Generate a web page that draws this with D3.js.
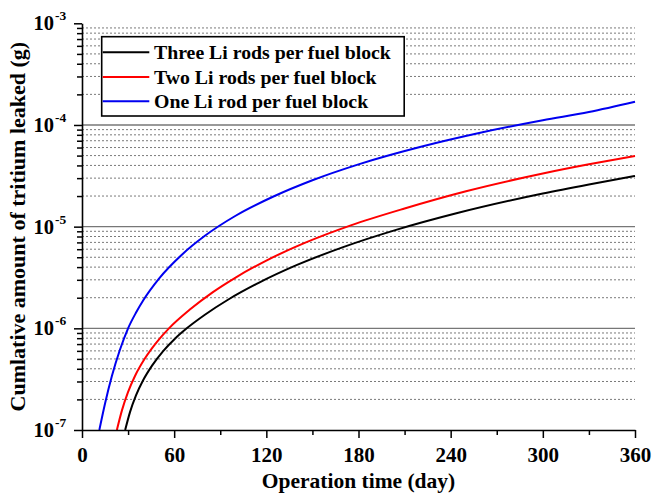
<!DOCTYPE html>
<html>
<head>
<meta charset="utf-8">
<script src="https://cdn.jsdelivr.net/npm/d3@7/dist/d3.min.js"></script>
<style>
  html, body { margin: 0; padding: 0; background: #fff; }
  svg { display: block; }
  text { font-family: "Liberation Serif", "Times New Roman", serif; font-weight: bold; fill: #000; }
</style>
</head>
<body>
<svg id="chart" width="654" height="494"></svg>
<script>
// ---- data ----
const seriesNames = ["Three Li rods per fuel block", "Two Li rods per fuel block", "One Li rod per fuel block"];
const seriesColors = ["#000000", "#ff0000", "#0000f0"];

const threeDays = [28.1, 31.25, 35.15, 39.7, 45.6, 52.7, 60.5, 68.2, 80, 95, 115, 140, 170, 205, 245, 300, 330, 360];
const threeVals = [1e-7, 1.50e-7, 2.19e-7, 3.07e-7, 4.30e-7, 5.94e-7, 7.91e-7, 1e-6, 1.36e-6, 1.91e-6, 2.80e-6, 4.20e-6, 6.29e-6, 9.35e-6, 1.37e-5, 2.12e-5, 2.60e-5, 3.15e-5];

const twoDays = [22.7, 26.0, 29.95, 34.5, 41.0, 48.8, 56.6, 70, 85, 100, 120, 145, 175, 210, 250, 300, 330, 360];
const twoVals = [1e-7, 1.56e-7, 2.36e-7, 3.40e-7, 5.07e-7, 7.37e-7, 1e-6, 1.52e-6, 2.26e-6, 3.16e-6, 4.64e-6, 6.92e-6, 1.03e-5, 1.51e-5, 2.23e-5, 3.33e-5, 4.10e-5, 4.95e-5];

const oneDays = [11.3, 15.0, 19.5, 24.7, 30, 35.2, 40, 50, 65, 80, 100, 125, 150, 180, 220, 260, 300, 330, 360];
const oneVals = [1e-7, 1.82e-7, 3.41e-7, 6.15e-7, 1e-6, 1.43e-6, 1.90e-6, 3.07e-6, 5.30e-6, 8.13e-6, 1.28e-5, 1.99e-5, 2.86e-5, 4.10e-5, 6.07e-5, 8.43e-5, 1.114e-4, 1.34e-4, 1.69e-4];

const xMajorTicks = [0, 60, 120, 180, 240, 300, 360];
const xMinorTicks = [30, 90, 150, 210, 270, 330];
const yMajorTicks = [1e-7, 1e-6, 1e-5, 1e-4, 1e-3];
const yMajorExp = ["-7", "-6", "-5", "-4", "-3"];

const xTitle = "Operation time (day)";
const yTitle = "Cumlative amount of tritium leaked (g)";

// ---- layout ----
const svg = d3.select("#chart");
const L = 82, R = 635, T = 23.3, B = 430;

const x = d3.scaleLinear().domain([0, 360]).range([L, R]);
const y = d3.scaleLog().domain([1e-7, 1e-3]).range([B, T]);

// minor values 2..9 per decade
const yMinor = [];
for (let e = -7; e < -3; e++) for (let m = 2; m <= 9; m++) yMinor.push(m * Math.pow(10, e));

// grid
const grid = svg.append("g");
grid.selectAll("line.minor").data(yMinor).enter().append("line")
  .attr("x1", L).attr("x2", R)
  .attr("y1", d => y(d)).attr("y2", d => y(d))
  .attr("stroke", "#7a7a7a").attr("stroke-width", 1).attr("stroke-dasharray", "2,2");
grid.selectAll("line.major").data([1e-6, 1e-5, 1e-4]).enter().append("line")
  .attr("x1", L).attr("x2", R)
  .attr("y1", d => y(d)).attr("y2", d => y(d))
  .attr("stroke", "#777").attr("stroke-width", 1.3);

// series
const allSeries = [
  { days: threeDays, vals: threeVals },
  { days: twoDays, vals: twoVals },
  { days: oneDays, vals: oneVals }
];
const line = d3.line().x(d => x(d[0])).y(d => y(d[1])).curve(d3.curveMonotoneX);
allSeries.forEach((s, i) => {
  const pts = s.days.map((d, k) => [d, s.vals[k]]);
  svg.append("path").datum(pts)
    .attr("d", line)
    .attr("fill", "none")
    .attr("stroke", seriesColors[i])
    .attr("stroke-width", 2);
});

// axes
const xAxis = svg.append("g").attr("transform", `translate(0,${B})`)
  .call(d3.axisBottom(x).tickValues(xMajorTicks).tickSize(8).tickSizeOuter(0).tickFormat(d3.format("d")));
svg.append("g").attr("transform", `translate(0,${B})`)
  .call(d3.axisBottom(x).tickValues(xMinorTicks).tickSize(5).tickSizeOuter(0).tickFormat(""))
  .select(".domain").remove();
xAxis.selectAll("text").attr("font-size", 21).attr("dy", 0).attr("y", 32)
  .style("font-family", "Liberation Serif").style("font-weight", "bold");

svg.append("g").attr("transform", `translate(${L},0)`)
  .call(d3.axisLeft(y).tickValues(yMajorTicks).tickSize(8).tickSizeOuter(0).tickFormat(""));
svg.append("g").attr("transform", `translate(${L},0)`)
  .call(d3.axisLeft(y).tickValues(yMinor).tickSize(5).tickSizeOuter(0).tickFormat(""))
  .select(".domain").remove();

svg.selectAll(".domain").attr("stroke", "#000").attr("stroke-width", 1.6);
svg.selectAll(".tick line").attr("stroke", "#000").attr("stroke-width", 1.5);

// y tick labels with superscripts
yMajorTicks.forEach((v, i) => {
  svg.append("text")
    .attr("x", 54).attr("y", y(v) + 7)
    .attr("text-anchor", "end")
    .attr("font-size", 20.5)
    .text("10");
  svg.append("text")
    .attr("x", 55).attr("y", y(v) - 3)
    .attr("font-size", 13.5)
    .text(yMajorExp[i]);
});

// titles
svg.append("text")
  .attr("x", (L + R) / 2).attr("y", 488)
  .attr("text-anchor", "middle").attr("font-size", 21.5)
  .text(xTitle);
svg.append("text")
  .attr("transform", `translate(25,${(T + B) / 2}) rotate(-90)`)
  .attr("text-anchor", "middle").attr("font-size", 22)
  .text(yTitle);

// legend
const lg = svg.append("g");
lg.append("rect")
  .attr("x", 101.7).attr("y", 36.7).attr("width", 302.5).attr("height", 79.3)
  .attr("fill", "#fff").attr("stroke", "#000").attr("stroke-width", 1.6);
const rowY = [52.3, 77, 101.2];
seriesNames.forEach((n, i) => {
  lg.append("line")
    .attr("x1", 102.7).attr("x2", 149.3)
    .attr("y1", rowY[i]).attr("y2", rowY[i])
    .attr("stroke", seriesColors[i]).attr("stroke-width", 2);
  lg.append("text")
    .attr("x", 154).attr("y", rowY[i] + 6.5)
    .attr("font-size", 19.8)
    .text(n);
});
</script>
</body>
</html>
